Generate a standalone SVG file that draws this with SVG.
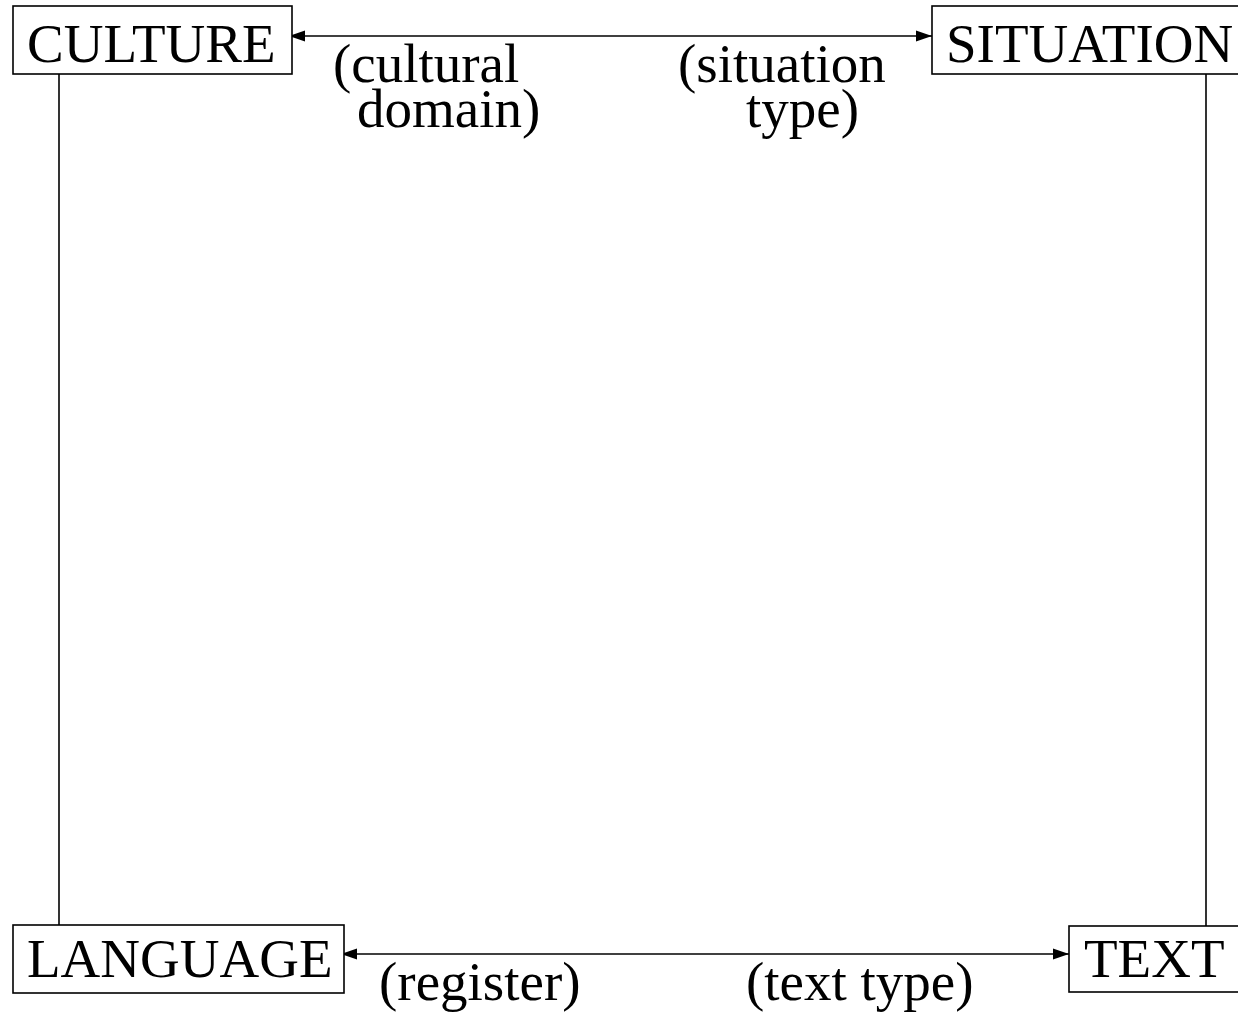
<svg xmlns="http://www.w3.org/2000/svg" width="1238" height="1013" viewBox="0 0 1238 1013">
<style>
.box{fill:#fff;stroke:#000;stroke-width:1.6}
.lbl{font-family:"Liberation Serif","Times New Roman",serif;font-size:55px;fill:#000}
.ln{stroke:#000;stroke-width:1.6;fill:none}
</style>
<defs>
<marker id="ah" markerUnits="userSpaceOnUse" markerWidth="17" markerHeight="12" refX="16" refY="6" orient="auto-start-reverse">
<path d="M0,0.5 L16,6 L0,11.5 Z" fill="#000"/>
</marker>
</defs>
<rect width="1238" height="1013" fill="#fff"/>
<g id="connectors">
<line class="ln" x1="59" y1="74" x2="59" y2="925"/>
<line class="ln" x1="1206" y1="74" x2="1206" y2="926"/>
<line class="ln" x1="289" y1="36" x2="932" y2="36" marker-start="url(#ah)" marker-end="url(#ah)"/>
<line class="ln" x1="341" y1="954" x2="1069" y2="954" marker-start="url(#ah)" marker-end="url(#ah)"/>
<text class="lbl"><tspan x="333" y="82">(cultural</tspan><tspan x="357" y="127">domain)</tspan></text>
<text class="lbl"><tspan x="678" y="82">(situation</tspan><tspan x="746" y="127">type)</tspan></text>
<text class="lbl" x="379" y="1000">(register)</text>
<text class="lbl" x="746" y="1000">(text type)</text>
</g>
<g id="culture">
<rect class="box" x="13" y="6" width="279" height="68"/>
<text class="lbl" x="27" y="62">CULTURE</text>
</g>
<g id="situation">
<rect class="box" x="932" y="6" width="320" height="68"/>
<text class="lbl" x="946" y="62">SITUATION</text>
</g>
<g id="language">
<rect class="box" x="13" y="925" width="331" height="68"/>
<text class="lbl" x="27" y="977">LANGUAGE</text>
</g>
<g id="text">
<rect class="box" x="1069" y="926" width="190" height="66"/>
<text class="lbl" x="1084" y="977">TEXT</text>
</g>
</svg>
